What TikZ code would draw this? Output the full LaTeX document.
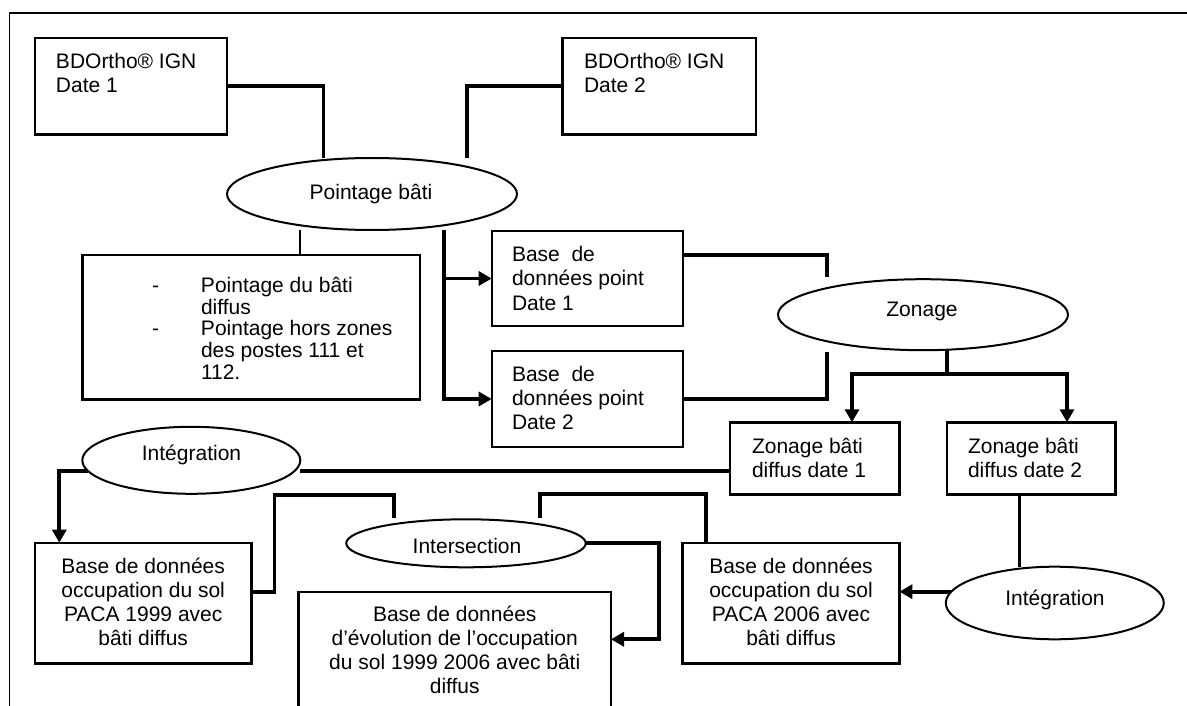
\documentclass[tikz,border=0pt]{standalone}
\usepackage{fontspec}
\setmainfont{Liberation Sans}
\usetikzlibrary{shapes.geometric,arrows.meta}
\begin{document}
\begin{tikzpicture}[x=1pt,y=-1pt,
  box/.style={draw,rectangle,line width=2.4pt,inner sep=0pt,outer sep=0pt},
  ell/.style={draw,ellipse,line width=2pt,inner sep=0pt,outer sep=0pt},
  txt/.style={inner sep=0pt,outer sep=0pt,font=\fontsize{21}{24.15}\selectfont},
  conn/.style={line width=3.8pt},
  thinconn/.style={line width=2pt},
  arr/.style={-{Triangle[width=14pt,length=13pt]}},
  frameline/.style={line width=1.6pt}]
\useasboundingbox (0,0) rectangle (1187,706);
\clip (0,0) rectangle (1187,706);
\draw[frameline] (9.6,720) -- (9.6,13.3) -- (1200,13.3);

% boxes
\node[box,minimum width=192.3pt,minimum height=96.5pt] (bd1) at (130.85,86.3) {};
\node[box,minimum width=193.4pt,minimum height=96.5pt] (bd2) at (659.3,86.3) {};
\node[ell,minimum width=290pt,minimum height=72pt] (pb) at (372,194) {};
\node[box,minimum width=337.5pt,minimum height=144.3pt] (pbox) at (251.05,327.15) {};
\node[box,minimum width=191.3pt,minimum height=95pt] (bp1) at (587.35,278.5) {};
\node[box,minimum width=191.3pt,minimum height=96pt] (bp2) at (587.35,399) {};
\node[ell,minimum width=290pt,minimum height=71pt] (zn) at (923,314.7) {};
\node[box,minimum width=169.4pt,minimum height=72pt] (zb1) at (814.7,458.3) {};
\node[box,minimum width=168.4pt,minimum height=72pt] (zb2) at (1031.2,458.3) {};
\node[ell,minimum width=218pt,minimum height=67pt] (il) at (191.3,460.3) {};
\node[box,minimum width=216.4pt,minimum height=120.6pt] (o1) at (143.2,603) {};
\node[ell,minimum width=239.5pt,minimum height=48pt] (is) at (466,543.3) {};
\node[box,minimum width=216.8pt,minimum height=120.6pt] (o2) at (791,603) {};
\node[box,minimum width=312.5pt,minimum height=124.3pt] (ev) at (454.75,653.85) {};
\node[ell,minimum width=218pt,minimum height=72.6pt] (ir) at (1054.8,603) {};

% texts
\node[txt,anchor=base west] (t1) at (56,68.5) {\begin{tabular}[t]{@{}l@{}}BDOrtho® IGN\\Date 1\end{tabular}};
\node[txt,anchor=base west] (t2) at (584,68.5) {\begin{tabular}[t]{@{}l@{}}BDOrtho® IGN\\Date 2\end{tabular}};
\node[txt,anchor=base] (t3) at (371,200) {Pointage bâti};
\node[txt,anchor=base west,font=\fontsize{21}{21.5}\selectfont] (t4) at (152,292.5) {\begin{tabular}[t]{@{}l@{}l@{}}\makebox[49pt][l]{-}&Pointage du bâti\\&diffus\\\makebox[49pt][l]{-}&Pointage hors zones\\&des postes 111 et\\&112.\end{tabular}};
\node[txt,anchor=base west] (t5) at (512,261.7) {\begin{tabular}[t]{@{}l@{}}Base\ \ de\\données point\\Date 1\end{tabular}};
\node[txt,anchor=base west] (t6) at (512,381.5) {\begin{tabular}[t]{@{}l@{}}Base\ \ de\\données point\\Date 2\end{tabular}};
\node[txt,anchor=base] (t7) at (922,316.5) {Zonage};
\node[txt,anchor=base west] (t8) at (752,453.3) {\begin{tabular}[t]{@{}l@{}}Zonage bâti\\diffus date 1\end{tabular}};
\node[txt,anchor=base west] (t9) at (968,453.3) {\begin{tabular}[t]{@{}l@{}}Zonage bâti\\diffus date 2\end{tabular}};
\node[txt,anchor=base] (t10) at (191.5,460.5) {Intégration};
\node[txt,anchor=base] (t11) at (467,553) {Intersection};
\node[txt,anchor=base] (t12) at (1055,605) {Intégration};
\node[txt,anchor=base] (t13) at (143.2,573.3) {\begin{tabular}[t]{@{}c@{}}Base de données\\occupation du sol\\PACA 1999 avec\\bâti diffus\end{tabular}};
\node[txt,anchor=base] (t14) at (791,573.3) {\begin{tabular}[t]{@{}c@{}}Base de données\\occupation du sol\\PACA 2006 avec\\bâti diffus\end{tabular}};
\node[txt,anchor=base] (t15) at (454.75,621.5) {\begin{tabular}[t]{@{}c@{}}Base de données\\d’évolution de l’occupation\\du sol 1999 2006 avec bâti\\diffus\end{tabular}};

% connectors
\draw[conn] (bd1.east) -| ([xshift=-48.6pt]pb.north);
\draw[conn] (bd2.west) -| ([xshift=95pt]pb.north);
\draw[thinconn] ([xshift=-72pt]pb.south) -- ([xshift=-72pt]pb.south |- pbox.north);
\draw[conn,arr] ([xshift=72pt]pb.south) |- (bp1.west);
\draw[conn,arr] ([xshift=72pt]pb.south) |- (bp2.west);
\draw[conn] ([yshift=23.5pt]bp1.east) -| ([xshift=-96pt,yshift=2.5pt]zn.north);
\draw[conn] (bp2.east) -| ([xshift=-96pt,yshift=-1.5pt]zn.south);
\coordinate (zj) at ([xshift=24pt,yshift=-24.1pt]zn.south);
\draw[conn] ([xshift=24pt]zn.south) -- (zj);
\draw[conn,arr] (zj) -| ([xshift=37.3pt]zb1.north);
\draw[conn,arr] (zj) -| ([xshift=35.8pt]zb2.north);
\draw[conn] ([yshift=-12.4pt]zb1.west) -- ([yshift=-12.4pt]zb1.west -| il.east);
\draw[conn,arr] ([xshift=-103.6pt,yshift=-10.4pt]il.center) -| ([xshift=-83.9pt]o1.north);
\draw[conn] ([yshift=11.3pt]o1.east) -- ++(23,0) |- ([xshift=-71.8pt,yshift=24.3pt]is.north) -- ([xshift=-71.8pt,yshift=1pt]is.north);
\draw[conn] ([xshift=-85.2pt]o2.north) |- ([xshift=73.6pt,yshift=25pt]is.north) -- ([xshift=73.6pt,yshift=1pt]is.north);
\draw[conn,arr] (is.east) -- ++(73.6,0) |- ([yshift=14.55pt]ev.east);
\draw[conn] ([xshift=-11.8pt]zb2.south) -- ([xshift=-11.8pt]zb2.south |- ir.north);
\draw[conn,arr] ([xshift=-103.6pt,yshift=11.3pt]ir.center) -- ([yshift=11.3pt]o2.east);
\end{tikzpicture}
\end{document}
